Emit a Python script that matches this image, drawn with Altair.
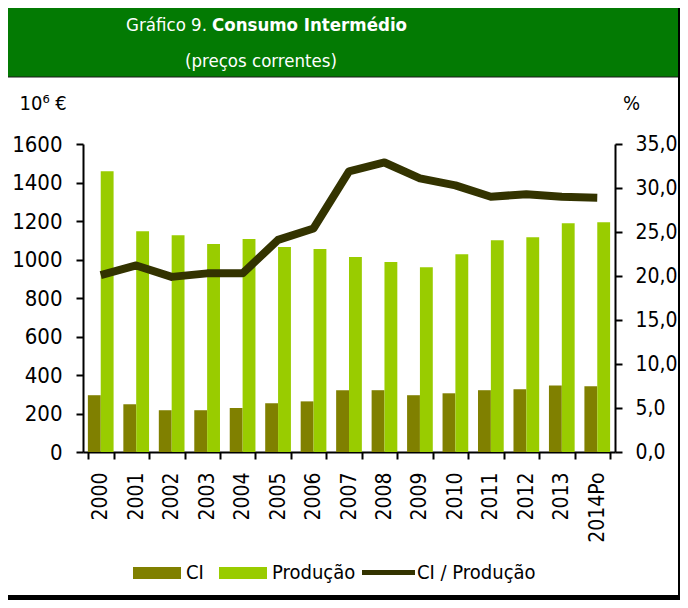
import altair as alt
import pandas as pd

# ---- data ----
anos = ["2000", "2001", "2002", "2003", "2004", "2005", "2006", "2007",
        "2008", "2009", "2010", "2011", "2012", "2013", "2014Po"]
ci = [295, 248, 217, 217, 229, 253, 263, 321, 321, 295, 305, 321, 326, 346, 341]
producao = [1459, 1147, 1126, 1080, 1106, 1065, 1055, 1013, 987, 960, 1027, 1100, 1116, 1188, 1193]
ci_prod = [20.1, 21.2, 19.9, 20.3, 20.3, 24.1, 25.4, 31.9, 32.9, 31.1, 30.3, 29.0, 29.3, 29.0, 28.9]

series = ["CI", "Produção"]
series_colors = ["#808000", "#99CC00"]
line_name = "CI / Produção"
line_color = "#333300"
header_green = "#037A03"

FONT = "DejaVu Sans Condensed, DejaVu Sans"

bars_df = pd.DataFrame(
    [{"ano": a, "serie": "CI", "valor": v} for a, v in zip(anos, ci)]
    + [{"ano": a, "serie": "Produção", "valor": v} for a, v in zip(anos, producao)]
)
line_df = pd.DataFrame({"ano": anos, "ratio": ci_prod, "nome": [line_name] * len(anos)})

W, H = 532, 308

x_enc = alt.X(
    "ano:N", sort=anos, title=None,
    scale=alt.Scale(paddingInner=0.275, paddingOuter=0.1375),
    axis=alt.Axis(labelAngle=-90, labelFontSize=21, labelFont=FONT, labelColor="black",
                  labelPadding=13, tickBand="extent", tickSize=7, tickWidth=2, tickColor="black",
                  domainColor="black", domainWidth=2),
)

bars = alt.Chart(bars_df).mark_bar().encode(
    x=x_enc,
    xOffset=alt.XOffset("serie:N", sort=series, scale=alt.Scale(paddingInner=0, paddingOuter=0)),
    y=alt.Y("valor:Q", scale=alt.Scale(domain=[0, 1600], nice=False),
            axis=alt.Axis(orient="left", values=list(range(0, 1601, 200)), format="d",
                          labelFontSize=22, labelFont=FONT, labelColor="black", labelPadding=14,
                          tickSize=7, tickWidth=2, tickColor="black", domainColor="black",
                          domainWidth=2, grid=False,
                          title="10⁶ €", titleAngle=0, titleX=-64, titleY=-41,
                          titleAlign="left", titleBaseline="middle", titleFont=FONT,
                          titleFontSize=20, titleFontWeight="normal", titleColor="black")),
    color=alt.Color("serie:N", scale=alt.Scale(domain=series, range=series_colors),
                    legend=alt.Legend(orient="none", legendX=50, legendY=405, direction="horizontal",
                                      title=None, symbolType="M-1,-0.25H1V0.25H-1Z", symbolSize=2304,
                                      symbolStrokeWidth=0, labelFontSize=20, labelFont=FONT,
                                      labelColor="black", labelOffset=5, columnPadding=15)),
)

line = alt.Chart(line_df).mark_line(strokeWidth=8, strokeJoin="round").encode(
    x=x_enc,
    y=alt.Y("ratio:Q", scale=alt.Scale(domain=[0, 35], nice=False),
            axis=alt.Axis(orient="right", values=list(range(0, 36, 5)),
                          labelExpr="replace(format(datum.value, '.1f'), '.', ',')",
                          labelFontSize=21, labelFont=FONT, labelColor="black", labelPadding=13,
                          tickSize=7, tickWidth=2, tickColor="black", domainColor="black",
                          domainWidth=2, grid=False,
                          title="%", titleAngle=0, titleX=16, titleY=-41,
                          titleAlign="center", titleBaseline="middle", titleFont=FONT,
                          titleFontSize=20, titleFontWeight="normal", titleColor="black")),
    color=alt.Color("nome:N", scale=alt.Scale(domain=[line_name], range=[line_color]),
                    legend=alt.Legend(orient="none", legendX=279, legendY=402, title=None,
                                      symbolType="M-1,-0.09H1V0.09H-1Z", symbolSize=2809,
                                      symbolStrokeWidth=0, symbolFillColor=line_color,
                                      labelFontSize=20, labelFont=FONT, labelColor="black",
                                      labelOffset=2)),
)

one = alt.Data(values=[{"k": 1}])

header = alt.Chart(one).mark_rect(color=header_green, stroke="#1a1a1a", strokeWidth=1).encode(
    x=alt.value(-90), x2=alt.value(606), y=alt.value(-150), y2=alt.value(-67)
)
title_a = alt.Chart(one).mark_text(text="Gráfico 9.", color="white", font=FONT, fontSize=18.5,
                                   align="right", baseline="alphabetic").encode(
    x=alt.value(124), y=alt.value(-113))
title_b = alt.Chart(one).mark_text(text="Consumo Intermédio", color="white", font=FONT, fontSize=18.5,
                                   fontWeight="bold", align="left", baseline="alphabetic").encode(
    x=alt.value(129), y=alt.value(-113))
title_c = alt.Chart(one).mark_text(text="(preços correntes)", color="white", font=FONT, fontSize=18.5,
                                   align="center", baseline="alphabetic").encode(
    x=alt.value(178), y=alt.value(-77))
border_r = alt.Chart(one).mark_rect(color="black").encode(
    x=alt.value(595), x2=alt.value(600), y=alt.value(-150), y2=alt.value(470))
border_b = alt.Chart(one).mark_rect(color="black").encode(
    x=alt.value(-90), x2=alt.value(606), y=alt.value(451), y2=alt.value(470))

chart = alt.layer(
    header, title_a, title_b, title_c, bars, line, border_r, border_b
).resolve_scale(
    y="independent", color="independent"
).properties(
    width=W, height=H,
    autosize=alt.AutoSizeParams(type="none"),
    padding={"left": 75, "top": 136, "right": 65, "bottom": 148},
    background="white",
).configure_view(strokeWidth=0)

chart.save("out.html", embed_options={"renderer": "svg", "actions": False})
